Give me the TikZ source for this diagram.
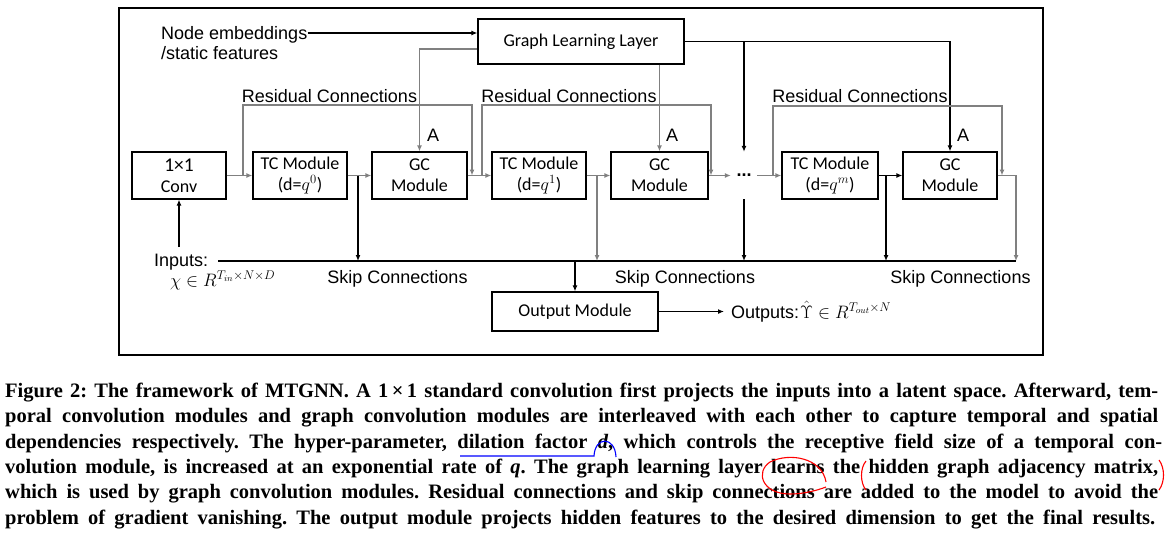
\documentclass[tikz,border=0pt]{standalone}
\usepackage{fix-cm}
\usepackage{fontspec}
\usetikzlibrary{arrows.meta,calc}
\setmainfont{Liberation Sans}
\newfontfamily\calib{Carlito}
\newfontfamily\capfont{Liberation Serif}
\definecolor{lgray}{RGB}{128,128,128}
\begin{document}
\frenchspacing
\begin{tikzpicture}[x=1pt,y=-1pt,
  box/.style={draw, line width=1.2pt, inner sep=0pt, align=center, font=\calib\fontsize{18}{21}\selectfont},
  lbl/.style={inner sep=0pt, font=\fontsize{18}{21.6}\selectfont},
  gl/.style={draw=lgray, line width=1.3pt},
  bl/.style={draw=black, line width=1.2pt},
  arr/.style={-{Latex[length=6pt,width=5pt]}},
  capline/.style={inner sep=0pt, anchor=base west, font=\capfont\bfseries\fontsize{20.5}{24}\selectfont},
  handmark/.style={line width=1.1pt}]
\useasboundingbox (0,0) rectangle (1165,536);
\fill[white] (0,0) rectangle (1165,536);
\draw[line width=1.2pt] (119,8) rectangle (1043,355);

% boxes
\node[box, minimum width=94pt, minimum height=47pt] (conv) at (179,175.5) {{\fontsize{19.5}{21}\selectfont 1×1}\\Conv};
\node[box, minimum width=94pt, minimum height=47pt] (tc1) at (300,175.5) {TC Module\\(d=$q^{0}$)};
\node[box, minimum width=95pt, minimum height=47pt] (gc1) at (419.5,175.5) {GC\\Module};
\node[box, minimum width=94pt, minimum height=47pt] (tc2) at (539,175.5) {TC Module\\(d=$q^{1}$)};
\node[box, minimum width=97pt, minimum height=47pt] (gc2) at (659.5,175.5) {GC\\Module};
\node[inner sep=0pt, minimum width=26pt, minimum height=47pt, font=\bfseries\fontsize{18}{21.6}\selectfont] (dots) at (744,175.5) {...};
\node[box, minimum width=96pt, minimum height=47pt] (tc3) at (830,175.5) {TC Module\\(d=$q^{m}$)};
\node[box, minimum width=94pt, minimum height=47pt] (gc3) at (950,175.5) {GC\\Module};
\node[box, minimum width=206pt, minimum height=45pt] (gll) at (581,41.5) {Graph Learning Layer};
\node[box, minimum width=166pt, minimum height=39pt] (out) at (575,311.5) {Output Module};

% labels
\node[lbl, anchor=base west] (ne1) at (161,39) {Node embeddings};
\node[lbl, anchor=base west] (ne2) at (161,59) {/static features};
\node[lbl, anchor=base] (res1) at (329.5,102) {Residual Connections};
\node[lbl, anchor=base] (res2) at (569,102) {Residual Connections};
\node[lbl, anchor=base] (res3) at (860,102) {Residual Connections};
\node[lbl, anchor=base] (a1) at (433,141) {A};
\node[lbl, anchor=base] (a2) at (672,141) {A};
\node[lbl, anchor=base] (a3) at (963,141) {A};
\node[lbl, anchor=base] (sk1) at (397.5,283.5) {Skip Connections};
\node[lbl, anchor=base] (sk2) at (685,283.5) {Skip Connections};
\node[lbl, anchor=base] (sk3) at (960.5,283.5) {Skip Connections};
\node[lbl, anchor=base west] (inputs) at (154,266) {Inputs:};
\node[lbl, anchor=base west] (inputs2) at (170,286) {$\chi\in R^{T_{in}\times N\times D}$};
\node[lbl, anchor=base west] (outs) at (731,318) {Outputs:\kern1pt$\hat{\Upsilon}\in R^{T_{out}\times N}$};

% coordinates
\coordinate (r1a) at (243,175.5); \coordinate (r1b) at (472,175.5);
\coordinate (r2a) at (482,175.5); \coordinate (r2b) at (711,175.5);
\coordinate (r3a) at (773,175.5); \coordinate (r3b) at (1002,175.5);
\coordinate (k1) at (358,175.5); \coordinate (k2) at (597,175.5);
\coordinate (k4) at (886,175.5); \coordinate (e3) at (1016,175.5);
\coordinate (skipR) at (1016,261); \coordinate (skipL) at (218,261);
\coordinate (inA) at (179,247);

% graph learning layer links
\draw[bl,arr] (ne1.east |- 0,33) -- (gll.west |- 0,33);
\draw[gl,arr] ([yshift=-7.5pt]gll.west) -| (gc1.north);
\draw[gl,arr] (gll.south -| gc2.north) -- (gc2.north);
\draw[bl,arr] (gll.east) -| (gc3.north);
\draw[bl,arr] (gll.east -| dots.north) -- (dots.north);

% main row
\draw[gl,arr] (conv.east) -- (tc1.west);
\draw[gl,arr] (tc1.east) -- (gc1.west);
\draw[gl,arr] (gc1.east) -- (tc2.west);
\draw[gl,arr] (tc2.east) -- (gc2.west);
\draw[gl,arr] (gc2.east) -- (dots.west);
\draw[gl,arr] (dots.east) -- (tc3.west);
\draw[bl,arr] (tc3.east) -- (gc3.west);
\draw[gl,arr] (gc3.east) -- (e3) -- (skipR);

% residual connections
\draw[gl,arr] (r1a) -- ++(0,-70.5) -| (r1b);
\draw[gl,arr] (r2a) -- ++(0,-70.5) -| (r2b);
\draw[gl,arr] (r3a) -- ++(0,-69.5) -| (r3b);

% skip connections
\draw[bl] (skipL) -- (skipR);
\draw[bl,arr] (k1) -- (k1 |- skipR);
\draw[gl,arr] (k2) -- (k2 |- skipR);
\draw[bl,arr] (dots.south) -- (dots.south |- skipR);
\draw[bl,arr] (k4) -- (k4 |- skipR);
\draw[bl,arr] (out.north |- skipR) -- (out.north);
\draw[bl,arr] (out.east) -- ([xshift=-7pt]outs.west |- out.east);
\draw[bl,arr] (inA) -- (conv.south);

% caption
\node[capline] (c1) at (5,397) {\makebox[1153pt][s]{Figure 2: The framework of MTGNN. A 1\,×\,1 standard convolution first projects the inputs into a latent space. Afterward, tem-}};
\node[capline] (c2) at (5,422.5) {\makebox[1153pt][s]{poral convolution modules and graph convolution modules are interleaved with each other to capture temporal and spatial}};
\node[capline] (c3) at (5,448) {\makebox[1157pt][s]{dependencies respectively. The hyper-parameter, dilation factor \textit{d}, which controls the receptive field size of a temporal con-}};
\node[capline] (c4) at (5,473) {\makebox[1153pt][s]{volution module, is increased at an exponential rate of \textit{q}. The graph learning layer learns the hidden graph adjacency matrix,}};
\node[capline] (c5) at (5,498.5) {\makebox[1153pt][s]{which is used by graph convolution modules. Residual connections and skip connections are added to the model to avoid the}};
\node[capline] (c6) at (5,524) {\makebox[1150pt][s]{problem of gradient vanishing. The output module projects hidden features to the desired dimension to get the final results.}};

% hand annotations
\draw[blue,handmark] (460,456) -- (594,456) .. controls (595,436) and (615,436) .. (616,457);
\draw[red,handmark] (826,482) .. controls (822,458) and (790,452) .. (770,462)
  .. controls (755,472) and (762,494) .. (790,494) .. controls (805,494) and (818,490) .. (826,487);
\draw[red,handmark] (866,461) .. controls (860,468) and (860,483) .. (866,490);
\draw[red,handmark] (1159,460) .. controls (1165,468) and (1165,482) .. (1159,490);
\end{tikzpicture}
\end{document}
